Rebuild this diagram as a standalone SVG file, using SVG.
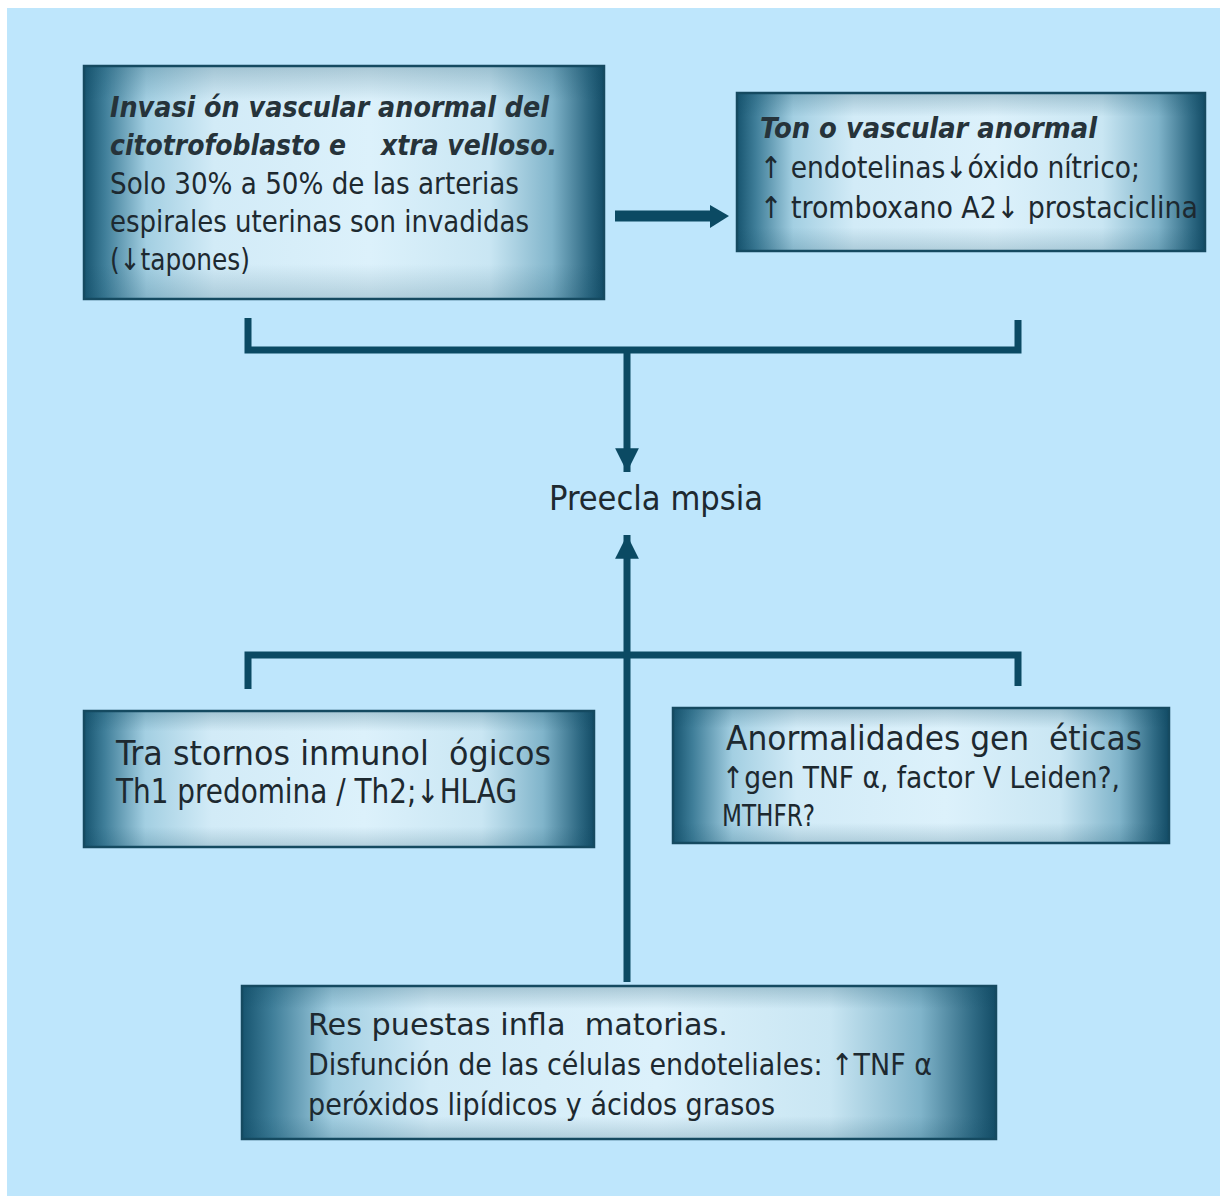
<svg xmlns="http://www.w3.org/2000/svg" width="1220" height="1196" viewBox="0 0 1220 1196">
<defs>
<linearGradient id="boxg" x1="0" y1="0" x2="1" y2="0">
<stop offset="0" stop-color="#17546f"/>
<stop offset="0.04" stop-color="#3f7e99"/>
<stop offset="0.12" stop-color="#a3cfe2"/>
<stop offset="0.25" stop-color="#d2ebf7"/>
<stop offset="0.55" stop-color="#dcf1fb"/>
<stop offset="0.78" stop-color="#c9e6f3"/>
<stop offset="0.9" stop-color="#80b4ca"/>
<stop offset="0.97" stop-color="#2f6a84"/>
<stop offset="1" stop-color="#134c66"/>
</linearGradient>
<linearGradient id="boxv" x1="0" y1="0" x2="0" y2="1">
<stop offset="0" stop-color="#0e4a63" stop-opacity="0.25"/>
<stop offset="0.15" stop-color="#0e4a63" stop-opacity="0"/>
<stop offset="0.85" stop-color="#0e4a63" stop-opacity="0"/>
<stop offset="1" stop-color="#0e4a63" stop-opacity="0.2"/>
</linearGradient>
<marker id="ah" viewBox="0 0 10 10" refX="10" refY="5" markerWidth="4" markerHeight="3.4" orient="auto" markerUnits="strokeWidth">
<path d="M0,0 L10,5 L0,10 z" fill="#0b4a63"/>
</marker>
</defs>
<style>
.box{fill:url(#boxg);stroke:#164a60;stroke-width:2.5}
.shade{fill:url(#boxv)}
.t{font-family:"DejaVu Sans Condensed","DejaVu Sans","Liberation Sans",sans-serif;font-stretch:condensed;fill:#1d2930;font-size:30px;white-space:pre}
.it{font-style:italic;font-weight:bold;fill:#26333a;font-size:29px}
.big{font-size:33px}
.conn{stroke:#0b4a63;fill:none;stroke-linecap:butt}
.head{fill:#0b4a63}
</style>
<rect x="0" y="0" width="1220" height="1196" fill="#ffffff"/>
<rect x="7" y="8" width="1213" height="1188" fill="#bee6fc"/>

<g id="connectors">
<path class="conn" stroke-width="7" d="M248,318 V350 H1018 V320"/>
<path class="conn" stroke-width="7" marker-end="url(#ah)" d="M627,350 V472"/>
<path class="conn" stroke-width="7" d="M248,689 V655 H1018 V686"/>
<path class="conn" stroke-width="7" marker-end="url(#ah)" d="M627,982 V535"/>
<path class="conn" stroke-width="11" d="M615,216 H714"/>
<path class="head" d="M710,205 L729,216 L710,228 z"/>
</g>

<g id="node-invasion">
<rect class="box" x="84" y="66" width="520" height="233"/>
<rect class="shade" x="84" y="66" width="520" height="233"/>
<text class="t it" x="110" y="117" textLength="439" lengthAdjust="spacingAndGlyphs">Invasi ón vascular anormal del</text>
<text class="t it" x="110" y="155" textLength="447" lengthAdjust="spacingAndGlyphs">citotrofoblasto e    xtra velloso.</text>
<text class="t" x="110" y="194" textLength="409" lengthAdjust="spacingAndGlyphs">Solo 30% a 50% de las arterias</text>
<text class="t" x="110" y="232" textLength="419" lengthAdjust="spacingAndGlyphs">espirales uterinas son invadidas</text>
<text class="t" x="110" y="270" textLength="140" lengthAdjust="spacingAndGlyphs">(↓tapones)</text>
</g>

<g id="node-tono">
<rect class="box" x="737" y="93" width="468" height="158"/>
<rect class="shade" x="737" y="93" width="468" height="158"/>
<text class="t it" x="760" y="138" textLength="337" lengthAdjust="spacingAndGlyphs">Ton o vascular anormal</text>
<text class="t" x="760" y="178" textLength="380" lengthAdjust="spacingAndGlyphs">↑ endotelinas↓óxido nítrico;</text>
<text class="t" x="760" y="218" textLength="438" lengthAdjust="spacingAndGlyphs">↑ tromboxano A2↓ prostaciclina</text>
</g>

<g id="node-preeclampsia">
<text class="t big" x="549" y="510" textLength="214" lengthAdjust="spacingAndGlyphs">Preecla mpsia</text>
</g>

<g id="node-inmunologicos">
<rect class="box" x="84" y="711" width="510" height="136"/>
<rect class="shade" x="84" y="711" width="510" height="136"/>
<text class="t big" x="116" y="765" textLength="435" lengthAdjust="spacingAndGlyphs">Tra stornos inmunol  ógicos</text>
<text class="t big" x="116" y="803" textLength="401" lengthAdjust="spacingAndGlyphs">Th1 predomina / Th2;↓HLAG</text>
</g>

<g id="node-geneticas">
<rect class="box" x="673" y="708" width="496" height="135"/>
<rect class="shade" x="673" y="708" width="496" height="135"/>
<text class="t big" x="726" y="750" textLength="416" lengthAdjust="spacingAndGlyphs">Anormalidades gen  éticas</text>
<text class="t" x="722" y="788" textLength="398" lengthAdjust="spacingAndGlyphs">↑gen TNF α, factor V Leiden?,</text>
<text class="t" x="722" y="826" textLength="93" lengthAdjust="spacingAndGlyphs">MTHFR?</text>
</g>

<g id="node-inflamatorias">
<rect class="box" x="242" y="986" width="754" height="153"/>
<rect class="shade" x="242" y="986" width="754" height="153"/>
<text class="t" x="308" y="1035" textLength="420" lengthAdjust="spacingAndGlyphs">Res puestas infla  matorias.</text>
<text class="t" x="308" y="1075" textLength="624" lengthAdjust="spacingAndGlyphs">Disfunción de las células endoteliales: ↑TNF α</text>
<text class="t" x="308" y="1115" textLength="467" lengthAdjust="spacingAndGlyphs">peróxidos lipídicos y ácidos grasos</text>
</g>
</svg>
